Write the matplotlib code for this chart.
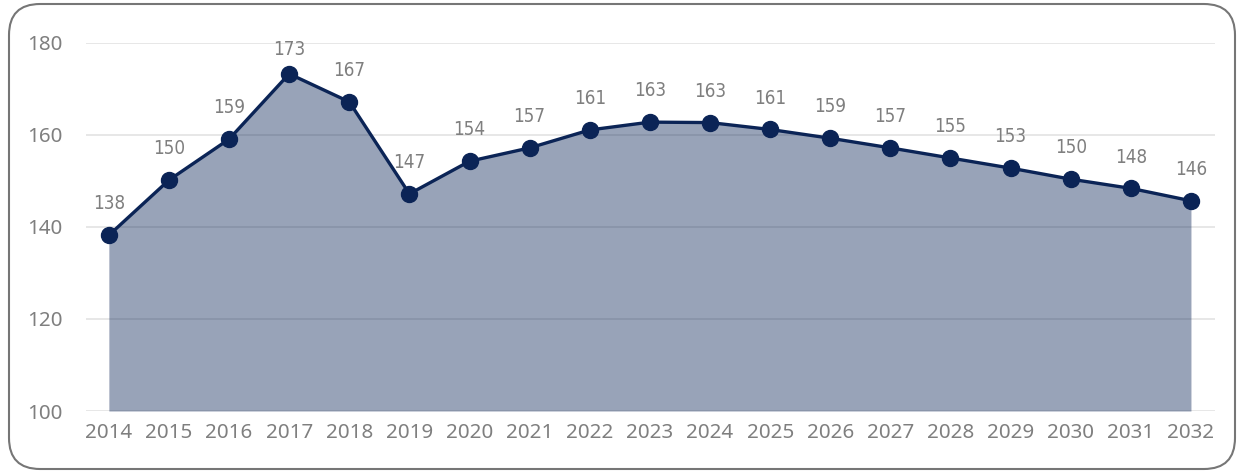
import matplotlib
matplotlib.use("Agg")
import matplotlib.pyplot as plt
from matplotlib.patches import FancyBboxPatch

years = ["2014", "2015", "2016", "2017", "2018", "2019", "2020", "2021", "2022", "2023",
         "2024", "2025", "2026", "2027", "2028", "2029", "2030", "2031", "2032"]
values = [138.2, 150.2, 159.1, 173.3, 167.2, 147.2, 154.3, 157.2, 161.1, 162.8,
          162.7, 161.2, 159.3, 157.2, 155.0, 152.8, 150.4, 148.4, 145.7]
labels = ["138", "150", "159", "173", "167", "147", "154", "157", "161", "163",
          "163", "161", "159", "157", "155", "153", "150", "148", "146"]
yticks = [100, 120, 140, 160, 180]

navy = "#0b2456"
grey_text = "#7f7f7f"

fig = plt.figure(figsize=(12.43, 4.73), dpi=100)
ax = fig.add_axes([86/1243, 1-411/473, (1215-86)/1243, (411-43)/473])

x = list(range(len(years)))
ax.fill_between(x, 100, values, color=navy, alpha=0.42, linewidth=0, zorder=2)
ax.plot(x, values, color=navy, linewidth=2.4, marker="o", markersize=11.5, zorder=3)

for xi, v, lab in zip(x, values, labels):
    ly = min(v + 6.8, 178.5)
    ax.text(xi, ly, lab, ha="center", va="center", fontsize=13.5, color=grey_text,
            family="DejaVu Sans", fontstretch="condensed", zorder=4)

ax.set_xlim(-0.38, len(years) - 1 + 0.4)
ax.set_ylim(100, 180)
ax.set_yticks(yticks)
ax.set_xticks(x)
ax.set_xticklabels(years)
ax.grid(axis="y", color="#e3e3e3", linewidth=1.2, zorder=0)
ax.set_axisbelow(True)
for s in ax.spines.values():
    s.set_visible(False)
ax.tick_params(axis="both", length=0, labelsize=14.8, colors=grey_text)
ax.tick_params(axis="y", pad=17)
ax.tick_params(axis="x", pad=9)
for t in ax.get_xticklabels() + ax.get_yticklabels():
    t.set_family(["Noto Sans", "DejaVu Sans"])

frame = FancyBboxPatch((9/1243, 4/473), (1235-9)/1243, (469-4)/473,
                       boxstyle="round,pad=0,rounding_size=0.025",
                       transform=fig.transFigure, facecolor="none",
                       edgecolor="#767676", linewidth=1.5, mutation_aspect=1243/473)
fig.patches.append(frame)

fig.savefig("out.png", dpi=100)
